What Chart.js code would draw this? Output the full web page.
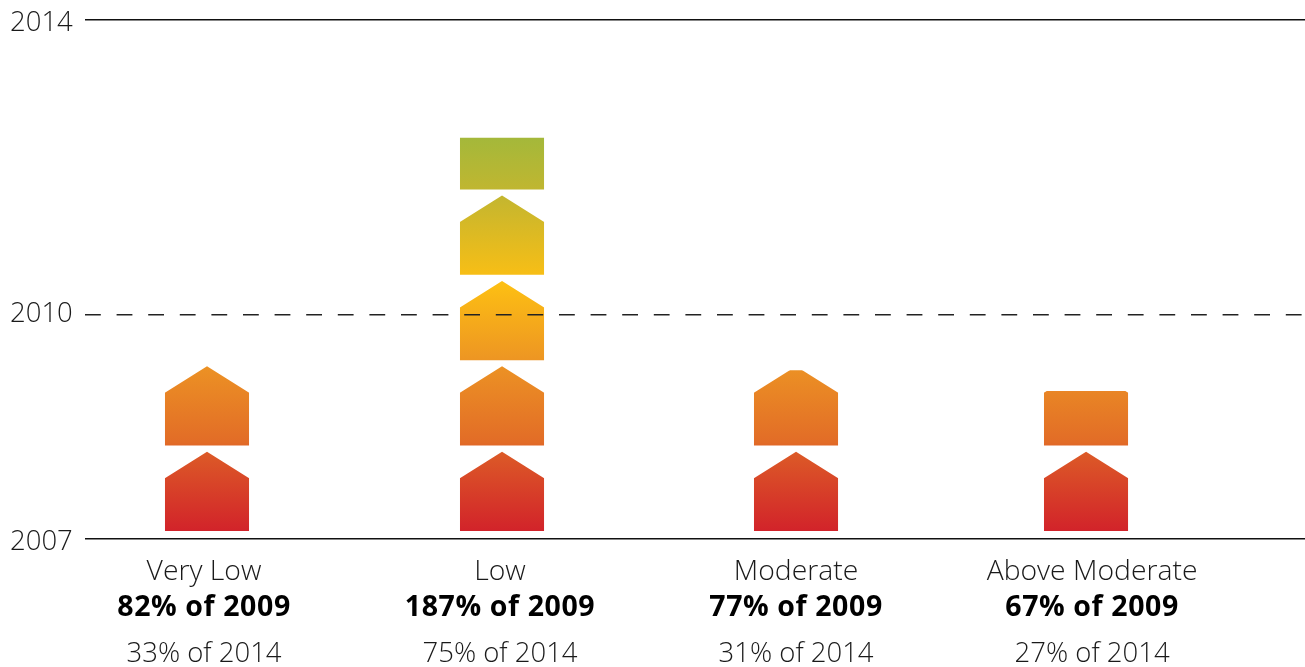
<!DOCTYPE html>
<html>
<head>
<meta charset="utf-8">
<title>Houses by income band</title>
<script src="https://cdn.jsdelivr.net/npm/chart.js@4/dist/chart.umd.min.js"></script>
<style>
  html, body { margin: 0; padding: 0; background: #fff; overflow: hidden; }
  #wrap { width: 1305px; height: 667px; }
</style>
</head>
<body>
<div id="wrap"><canvas id="houseChart" width="1305" height="667"></canvas></div>
<script>
const categories = ['Very Low', 'Low', 'Moderate', 'Above Moderate'];
const shareOf2009 = ['82% of 2009', '187% of 2009', '77% of 2009', '67% of 2009'];
const shareOf2014 = ['33% of 2014', '75% of 2014', '31% of 2014', '27% of 2014'];
// top of each stack
const stackTops = [2009.33, 2012.41, 2009.27, 2008.99];
const yearTicks = [2007, 2010.016, 2014];

const fontFamily = '"Open Sans", sans-serif';

// hand nudges, the columns in the picture are not quite evenly spaced
const barNudge = [0, 2, 3, 0];
const labelNudge = [-3, 0, 3, 6];
const yearNudge = [12, 7, 11]; // baseline offset below each grid line

const housePitch = 85.4;
const houseRoof = 26.5;
const houseHeight = 79.3;
const houseGap = 7.3; // space between the axis and the first house

// draws the stacked houses inside each bar's rectangle
const houseBars = {
  id: 'houseBars',
  afterDatasetsDraw(chart) {
    const c = chart.ctx;
    const bars = chart.getDatasetMeta(0).data;
    const floor = chart.scales.y.getPixelForValue(2007) - houseGap;
    const grad = c.createLinearGradient(0, floor, 0, floor - 393);
    grad.addColorStop(0, '#d2232a');
    grad.addColorStop(0.2, '#dc5a27');
    grad.addColorStop(0.225, '#e26c27');
    grad.addColorStop(0.42, '#ec9224');
    grad.addColorStop(0.63, '#fdbf13');
    grad.addColorStop(0.85, '#c4b62f');
    grad.addColorStop(1, '#a4b83a');

    bars.forEach(function(bar, i) {
      const cx = bar.x + barNudge[i];
      const half = bar.width / 2;
      c.save();
      c.beginPath();
      c.rect(cx - half, bar.y, bar.width, bar.base - bar.y);
      c.clip();
      c.fillStyle = grad;
      c.beginPath();
      for (let h = 0; floor - h * housePitch > bar.y; h++) {
        const b = floor - h * housePitch;
        c.moveTo(cx - half, b);
        c.lineTo(cx + half, b);
        c.lineTo(cx + half, b - houseHeight + houseRoof);
        c.lineTo(cx, b - houseHeight);
        c.lineTo(cx - half, b - houseHeight + houseRoof);
        c.closePath();
      }
      c.fill();
      c.restore();
    });
  }
};

// three line labels under the axis (middle one bold) and the year labels
const textLabels = {
  id: 'textLabels',
  afterDraw(chart) {
    const c = chart.ctx;
    const xScale = chart.scales.x;
    const yScale = chart.scales.y;
    c.save();
    c.fillStyle = '#1a1a1a';
    c.textAlign = 'center';
    c.textBaseline = 'alphabetic';
    categories.forEach(function(name, i) {
      const x = xScale.getPixelForValue(i) + labelNudge[i];
      c.fillStyle = '#1a1a1a';
      c.letterSpacing = '0px';
      c.font = '300 28.3px ' + fontFamily;
      c.fillText(name, x, 580);
      c.fillStyle = '#000';
      c.letterSpacing = '0.6px';
      c.font = '700 28.5px ' + fontFamily;
      c.fillText(shareOf2009[i], x, 616);
      c.fillStyle = '#1a1a1a';
      c.letterSpacing = '0px';
      c.font = '300 27.5px ' + fontFamily;
      c.fillText(shareOf2014[i], x, 662);
    });
    c.textAlign = 'left';
    c.font = '300 27.5px ' + fontFamily;
    yearTicks.forEach(function(v, i) {
      c.fillText(String(Math.round(v)), 10, yScale.getPixelForValue(v) + yearNudge[i]);
    });
    c.restore();
  }
};

new Chart(document.getElementById('houseChart'), {
  type: 'bar',
  data: {
    datasets: [{
      data: stackTops.map(function(v, i) { return { x: i, y: v }; }),
      backgroundColor: 'rgba(0,0,0,0)',
      barThickness: 84.3,
      base: 2007
    }]
  },
  options: {
    responsive: false,
    animation: false,
    layout: { padding: { top: 20, left: 0, right: 0, bottom: 0 } },
    plugins: { legend: { display: false }, tooltip: { enabled: false } },
    scales: {
      x: {
        type: 'linear',
        min: -0.4164,
        max: 3.7472,
        offset: false,
        grid: { display: false },
        border: { display: false },
        ticks: { display: false },
        afterFit: function(scale) { scale.height = 128.7; }
      },
      y: {
        min: 2007,
        max: 2014,
        afterBuildTicks: function(scale) {
          scale.ticks = yearTicks.map(function(v) { return { value: v }; });
        },
        afterFit: function(scale) { scale.width = 85; },
        border: {
          display: false,
          dash: function(ctx) { return ctx.index === 1 ? [15.8, 15.8] : []; }
        },
        grid: {
          z: 1, // the dashed 2010 line runs over the houses
          drawTicks: false,
          color: function(ctx) { return ctx.index === 1 ? '#222' : '#111'; },
          lineWidth: function(ctx) { return ctx.index === 1 ? 1.5 : 1.6; }
        },
        ticks: { display: false }
      }
    }
  },
  plugins: [houseBars, textLabels]
});
</script>
</body>
</html>
